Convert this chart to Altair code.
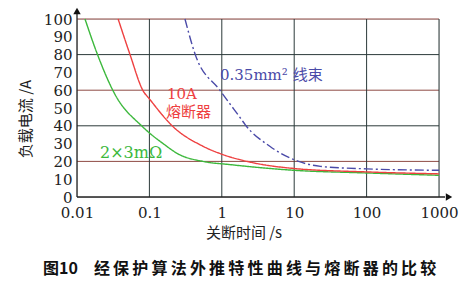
import altair as alt
import pandas as pd

# ---- data ----
green_t = [0.0129, 0.019, 0.0336, 0.078, 0.1, 0.15, 0.26, 0.55, 1.3, 10, 100, 1000]
green_i = [100, 80.5, 57.5, 40, 36, 30.4, 23.8, 20, 18.2, 15.0, 13.5, 12.2]

red_t = [0.037, 0.054, 0.081, 0.102, 0.21, 0.55, 1.04, 2.4, 10, 100, 1000]
red_i = [100, 80, 60, 54.7, 39.7, 28.5, 23.8, 19.7, 16, 14.1, 13]

blue_t = [0.31, 0.43, 0.94, 1.37, 1.88, 2.1, 4.6, 11.5, 23, 100, 1000]
blue_i = [100, 80, 60, 51, 43.4, 40.7, 28.5, 20, 17.2, 15.8, 15]

series_names = ["2×3mΩ", "10A熔断器", "0.35mm²线束"]
series_colors = ["#3cb83c", "#ee4040", "#4a4aa8"]

x_ticks = [0.01, 0.1, 1, 10, 100, 1000]
y_ticks = [0, 10, 20, 30, 40, 50, 60, 70, 80, 90, 100]
x_grid = [0.1, 1, 10, 100, 1000]
y_grid = [20, 40, 60, 80, 100]

x_title = "关断时间 /s"
y_title = "负载电流 /A"
caption_head = "图10"
caption_body = "经保护算法外推特性曲线与熔断器的比较"

# ---- tables ----
rows = []
for name, ts, vs in zip(series_names, [green_t, red_t, blue_t], [green_i, red_i, blue_i]):
    for t, v in zip(ts, vs):
        rows.append({"series": name, "t": t, "i": v})
df = pd.DataFrame(rows)

W, H = 362, 178
SERIF = "DejaVu Serif, Noto Sans CJK SC"
CJK = "Noto Sans CJK SC"

xscale = alt.Scale(type="log", domain=[0.01, 1000])
yscale = alt.Scale(domain=[0, 100])
xaxis = alt.Axis(values=x_ticks, labelExpr="format(datum.value, '~g')", title=None,
                 grid=False, ticks=False, domain=False, labelPadding=8,
                 labelFont="DejaVu Serif", labelFontSize=15, labelColor="#222",
                 labelFlush=False)
yaxis = alt.Axis(values=y_ticks, title=None, grid=False, ticks=False, domain=False,
                 labelPadding=5, labelFont="DejaVu Serif", labelFontSize=15,
                 labelColor="#222")

hgrid = alt.Chart(pd.DataFrame({"v": y_grid})).mark_rule(strokeWidth=1).encode(
    y=alt.Y("v:Q", scale=yscale, axis=yaxis),
    color=alt.condition("datum.v % 40 == 20", alt.value("#8e4a44"), alt.value("#2c3a3a")),
)
vgrid = alt.Chart(pd.DataFrame({"v": x_grid})).mark_rule(strokeWidth=1, color="#2c3a3a").encode(
    x=alt.X("v:Q", scale=xscale, axis=xaxis),
)

one = pd.DataFrame({"a": [0]})
xline = alt.Chart(one).mark_rule(color="#222", strokeWidth=1.3).encode(
    x=alt.value(0), x2=alt.value(W + 6), y=alt.value(H))
yline = alt.Chart(one).mark_rule(color="#222", strokeWidth=1.3).encode(
    x=alt.value(0), y=alt.value(-8), y2=alt.value(H))
xarrow = alt.Chart(one).mark_point(shape="triangle-right", filled=True, size=55,
                                   color="#111", opacity=1).encode(
    x=alt.value(W + 10), y=alt.value(H))
yarrow = alt.Chart(one).mark_point(shape="triangle-up", filled=True, size=55,
                                   color="#111", opacity=1).encode(
    x=alt.value(0), y=alt.value(-8))

lines = alt.Chart(df).mark_line(strokeWidth=1.4, interpolate="monotone").encode(
    x=alt.X("t:Q", scale=xscale, axis=xaxis),
    y=alt.Y("i:Q", scale=yscale, axis=yaxis),
    color=alt.Color("series:N", scale=alt.Scale(domain=series_names, range=series_colors), legend=None),
    strokeDash=alt.StrokeDash("series:N", scale=alt.Scale(domain=series_names,
                              range=[[1, 0], [1, 0], [9, 3, 2, 3]]), legend=None),
    detail="series:N",
)


def label(text, x, y, color, size=15, font=SERIF, align="left", angle=0, weight="normal"):
    return alt.Chart(one).mark_text(text=text, align=align, baseline="middle", font=font,
                                    fontSize=size, color=color, angle=angle,
                                    fontWeight=weight).encode(x=alt.value(x), y=alt.value(y))


texts = [
    label("10A", 90, 75, "#ee4040"),
    label("熔断器", 89, 93, "#ee4040"),
    label("0.35mm² 线束", 143, 56, "#4a4aa8"),
    label("2×3mΩ", 23, 134, "#3cb83c", size=16),
    label(x_title, 167, 214, "#222", font=CJK, align="center"),
    label(y_title, -51, 100, "#222", font=CJK, align="center", angle=270),
    label(caption_head + "\u2003" + "\u2009".join(caption_body), -34, 250, "#111",
          size=16, font=CJK, weight="bold"),
]

chart = alt.layer(hgrid, vgrid, lines, xline, yline, xarrow, yarrow, *texts).properties(
    width=W, height=H,
    autosize=alt.AutoSizeParams(type="none"),
    padding={"left": 77, "top": 19, "right": 25, "bottom": 87},
).configure_view(stroke=None).configure(background="white")

chart.save("out.html", embed_options={"renderer": "svg", "actions": False})
